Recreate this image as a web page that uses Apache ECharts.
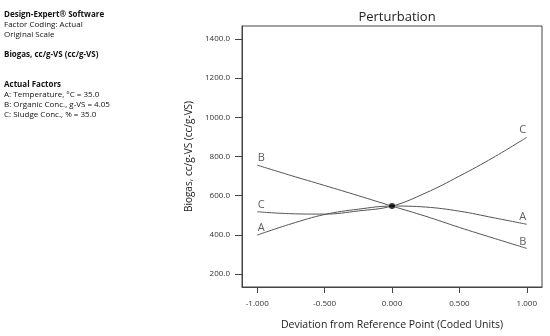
<!DOCTYPE html>
<html>
<head>
<meta charset="utf-8">
<script src="https://cdn.jsdelivr.net/npm/echarts@6/dist/echarts.min.js"></script>
<style>
html,body{margin:0;padding:0;background:#fff;}
#chart{width:550px;height:336px;}
</style>
</head>
<body>
<div id="chart"></div>
<script>
// Data
var xValues = [-1, -0.75, -0.5, -0.25, 0, 0.25, 0.5, 0.75, 1];
var seriesA = [399, 456, 504, 531, 547, 542, 521, 488, 454];
var seriesB = [756, 703, 652, 600, 547, 495, 438, 384, 331];
var seriesC = [518, 508, 506, 522, 547, 614, 700, 794, 898];
var seriesNames = ['A', 'B', 'C'];
var centerPoint = [0, 547];
var yTicks = [200, 400, 600, 800, 1000, 1200, 1400];
var xTicks = [-1, -0.5, 0, 0.5, 1];
var infoLines = [
  ['Design-Expert\u00ae Software', true],
  ['Factor Coding: Actual', false],
  ['Original Scale', false],
  ['', false],
  ['Biogas, cc/g-VS (cc/g-VS)', true],
  ['', false],
  ['', false],
  ['Actual Factors', true],
  ['A: Temperature, \u00b0C = 35.0', false],
  ['B: Organic Conc., g-VS = 4.05', false],
  ['C: Sludge Conc., % = 35.0', false]
];

var FONT = '"Open Sans", "DejaVu Sans", sans-serif';
var LINE = '#555555';

function buildSeries(name, vals) {
  return {
    type: 'line',
    name: name,
    data: vals.map(function (v, i) { return [xValues[i], v]; }),
    smooth: 0.4,
    symbol: 'none',
    lineStyle: { color: LINE, width: 1 },
    silent: true,
    z: 2
  };
}

// end labels (A/B/C) placed at the ends of each curve
var labelData = [];
[seriesA, seriesB, seriesC].forEach(function (vals, k) {
  var last = vals.length - 1;
  labelData.push({ value: [xValues[0], vals[0]], name: seriesNames[k], label: { offset: [4, 1] } });
  labelData.push({ value: [xValues[last], vals[last]], name: seriesNames[k], label: { offset: [-4, 1] } });
});

var graphics = [];
infoLines.forEach(function (ln, i) {
  if (!ln[0]) return;
  graphics.push({
    type: 'text',
    left: 4,
    top: 11 + i * 10,
    style: {
      text: ln[0],
      fill: '#111',
      font: (ln[1] ? 'bold ' : '') + '8px ' + FONT
    }
  });
});

var chart = echarts.init(document.getElementById('chart'), null, { renderer: 'canvas' });
chart.setOption({
  animation: false,
  backgroundColor: '#ffffff',
  title: {
    text: 'Perturbation',
    left: 392,
    textAlign: 'center',
    top: 6,
    textStyle: { fontFamily: FONT, fontSize: 13, fontWeight: 'normal', color: '#222' }
  },
  graphic: graphics,
  grid: { left: 242, top: 26, width: 300, height: 263, show: true, borderColor: '#444', borderWidth: 1, backgroundColor: 'transparent' },
  xAxis: {
    type: 'value',
    min: -1.113,
    max: 1.113,
    name: 'Deviation from Reference Point (Coded Units)',
    nameLocation: 'middle',
    nameGap: 33,
    nameTextStyle: { fontFamily: FONT, fontSize: 10.5, color: '#222' },
    axisLine: { show: true, onZero: false, lineStyle: { color: '#444' } },
    axisTick: { show: true, length: 6, customValues: xTicks, lineStyle: { color: '#444' } },
    axisLabel: {
      customValues: xTicks,
      formatter: function (v) { return v.toFixed(3); },
      fontFamily: FONT, fontSize: 8, color: '#333', margin: 13
    },
    splitLine: { show: false }
  },
  yAxis: {
    type: 'value',
    min: 134,
    max: 1466,
    name: 'Biogas, cc/g-VS (cc/g-VS)',
    nameLocation: 'middle',
    nameGap: 36,
    nameTextStyle: { fontFamily: FONT, fontSize: 10, color: '#222' },
    axisLine: { show: true, onZero: false, lineStyle: { color: '#444' } },
    axisTick: { show: true, length: 7, customValues: yTicks, lineStyle: { color: '#444' } },
    axisLabel: {
      customValues: yTicks,
      formatter: function (v) { return v.toFixed(1); },
      fontFamily: FONT, fontSize: 8, color: '#333', margin: 12
    },
    splitLine: { show: false }
  },
  series: [
    buildSeries(seriesNames[0], seriesA),
    buildSeries(seriesNames[1], seriesB),
    buildSeries(seriesNames[2], seriesC),
    {
      type: 'scatter',
      data: labelData,
      symbol: 'circle',
      symbolSize: 1,
      itemStyle: { color: 'rgba(0,0,0,0)' },
      label: {
        show: true,
        position: 'top',
        distance: 2,
        formatter: '{b}',
        color: '#333',
        fontFamily: FONT,
        fontSize: 11
      },
      silent: true,
      z: 4
    },
    {
      type: 'scatter',
      data: [centerPoint],
      symbol: 'circle',
      symbolSize: 6,
      itemStyle: { color: '#000' },
      silent: true,
      z: 5
    }
  ]
});
</script>
</body>
</html>
